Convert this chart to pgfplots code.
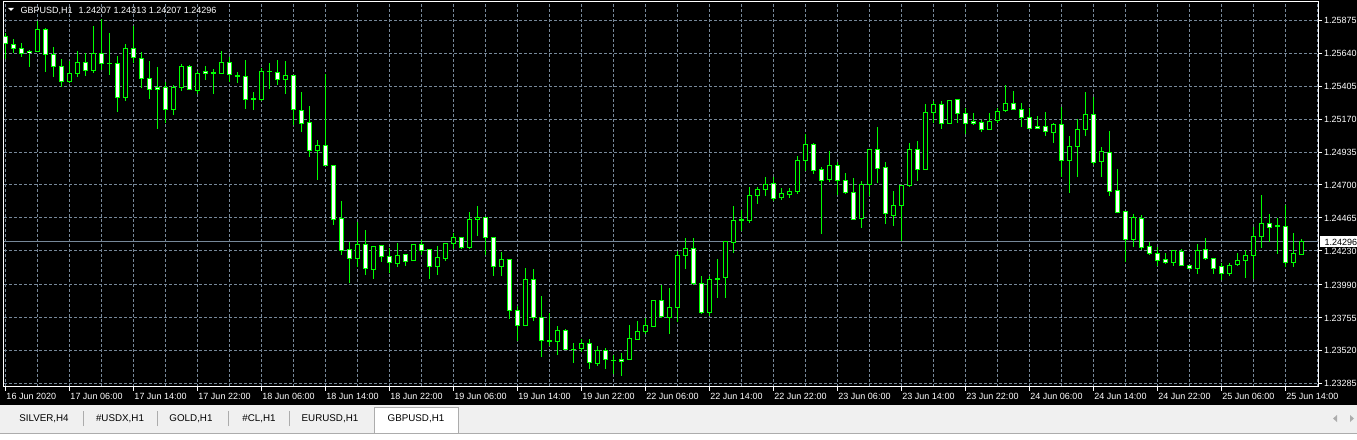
\documentclass[border=0pt]{standalone}
\usepackage{pgfplots}
\pgfplotsset{compat=1.18}
\usepackage{pgfplotstable}
\usetikzlibrary{backgrounds}
\usepackage{fontspec}
\setmainfont{Liberation Sans}
\definecolor{mtlime}{RGB}{0,255,0}
\definecolor{mtgrid}{RGB}{119,136,153}
\definecolor{tabgray}{RGB}{240,240,240}
\definecolor{tabline}{RGB}{172,172,172}
\newcommand{\mtfont}{\fontsize{9}{10.8}\selectfont}

% hourly GBPUSD candles, i = hours after 16 Jun 2020 22:00 (trading hours only)
\pgfplotstableread{
i o h l c
4 1.25652 1.25873 1.25647 1.25811
8 1.25441 1.25586 1.25426 1.25498
9 1.25498 1.25657 1.25474 1.25576
11 1.25519 1.25835 1.25498 1.25635
15 1.25326 1.25707 1.25303 1.25676
21 1.25237 1.25415 1.25201 1.25398
22 1.25398 1.25564 1.25374 1.25548
24 1.25376 1.25517 1.25350 1.25498
27 1.25498 1.25657 1.25498 1.25571
32 1.25312 1.25538 1.25296 1.25512
35 1.25455 1.25586 1.25350 1.25484
39 1.24947 1.25023 1.24738 1.24985
44 1.24173 1.24439 1.24113 1.24273
46 1.24101 1.24268 1.24030 1.24266
49 1.24144 1.24290 1.24113 1.24201
51 1.24159 1.24280 1.24156 1.24273
54 1.24121 1.24266 1.24057 1.24180
55 1.24180 1.24290 1.24156 1.24287
56 1.24287 1.24360 1.24247 1.24323
58 1.24256 1.24510 1.24244 1.24451
59 1.24451 1.24553 1.24334 1.24472
62 1.24116 1.24223 1.24050 1.24166
65 1.23698 1.24109 1.23696 1.24026
69 1.23586 1.23694 1.23487 1.23665
72 1.23537 1.23601 1.23506 1.23572
74 1.23430 1.23553 1.23413 1.23522
78 1.23458 1.23703 1.23456 1.23608
79 1.23601 1.23734 1.23598 1.23658
80 1.23658 1.23755 1.23637 1.23698
81 1.23691 1.23883 1.23689 1.23876
83 1.23755 1.23964 1.23637 1.23826
84 1.23826 1.24230 1.23726 1.24201
85 1.24201 1.24323 1.24101 1.24251
88 1.23791 1.24054 1.23769 1.24026
90 1.24040 1.24301 1.23897 1.24294
91 1.24294 1.24551 1.24216 1.24451
92 1.24448 1.24525 1.24375 1.24451
93 1.24444 1.24686 1.24429 1.24629
94 1.24629 1.24686 1.24562 1.24671
95 1.24671 1.24757 1.24621 1.24707
97 1.24614 1.24679 1.24591 1.24643
98 1.24636 1.24679 1.24605 1.24657
99 1.24657 1.24906 1.24636 1.24875
100 1.24875 1.25064 1.24797 1.24992
103 1.24743 1.24942 1.24721 1.24842
107 1.24458 1.24729 1.24398 1.24707
108 1.24707 1.24959 1.24619 1.24956
111 1.24486 1.24657 1.24405 1.24551
112 1.24551 1.24700 1.24298 1.24693
113 1.24693 1.24999 1.24686 1.24956
115 1.24813 1.25277 1.24811 1.25220
116 1.25220 1.25299 1.25141 1.25277
118 1.25141 1.25308 1.25134 1.25306
123 1.25099 1.25213 1.25096 1.25156
124 1.25163 1.25249 1.25141 1.25227
125 1.25234 1.25412 1.25220 1.25284
131 1.25077 1.25141 1.24999 1.25134
133 1.24878 1.25049 1.24643 1.24978
134 1.24978 1.25170 1.24757 1.25099
135 1.25099 1.25362 1.25049 1.25206
137 1.24864 1.24971 1.24757 1.24935
141 1.24309 1.24494 1.24256 1.24465
146 1.24144 1.24232 1.24121 1.24230
149 1.24108 1.24280 1.24064 1.24237
153 1.24069 1.24144 1.24054 1.24130
154 1.24130 1.24216 1.24121 1.24159
155 1.24159 1.24237 1.24033 1.24201
156 1.24201 1.24401 1.24033 1.24337
157 1.24337 1.24629 1.24251 1.24429
161 1.24151 1.24358 1.24116 1.24209
162 1.24207 1.24313 1.24207 1.24296
}\bull

\pgfplotstableread{
i o h l c
0 1.25759 1.25783 1.25597 1.25707
1 1.25704 1.25742 1.25640 1.25676
2 1.25676 1.25714 1.25611 1.25640
3 1.25654 1.25664 1.25545 1.25645
5 1.25811 1.25820 1.25510 1.25635
6 1.25635 1.25683 1.25474 1.25548
7 1.25548 1.25600 1.25398 1.25443
10 1.25576 1.25640 1.25474 1.25519
12 1.25640 1.25882 1.25522 1.25569
13 1.25571 1.25783 1.25486 1.25569
14 1.25569 1.25623 1.25218 1.25326
16 1.25676 1.25835 1.25569 1.25611
17 1.25604 1.25647 1.25391 1.25462
18 1.25462 1.25586 1.25317 1.25384
19 1.25398 1.25541 1.25099 1.25384
20 1.25398 1.25438 1.25146 1.25237
23 1.25548 1.25557 1.25379 1.25384
25 1.25514 1.25550 1.25450 1.25498
26 1.25503 1.25526 1.25350 1.25500
28 1.25576 1.25616 1.25438 1.25491
29 1.25481 1.25510 1.25431 1.25476
30 1.25476 1.25593 1.25246 1.25312
31 1.25315 1.25362 1.25237 1.25312
33 1.25512 1.25569 1.25388 1.25510
34 1.25505 1.25593 1.25415 1.25455
36 1.25484 1.25486 1.25130 1.25241
37 1.25234 1.25362 1.25082 1.25141
38 1.25149 1.25265 1.24897 1.24949
40 1.24985 1.25493 1.24840 1.24842
41 1.24842 1.24845 1.24417 1.24458
42 1.24465 1.24589 1.24204 1.24237
43 1.24237 1.24294 1.24002 1.24173
45 1.24273 1.24377 1.24057 1.24101
47 1.24266 1.24273 1.24149 1.24187
48 1.24187 1.24251 1.24073 1.24144
50 1.24201 1.24204 1.24121 1.24151
52 1.24273 1.24311 1.24201 1.24237
53 1.24237 1.24244 1.24030 1.24116
57 1.24323 1.24328 1.24244 1.24256
60 1.24472 1.24475 1.24201 1.24323
61 1.24329 1.24332 1.24050 1.24116
63 1.24166 1.24173 1.23748 1.23805
64 1.23805 1.23834 1.23591 1.23698
66 1.24026 1.24101 1.23731 1.23755
67 1.23755 1.23907 1.23470 1.23594
68 1.23589 1.23784 1.23549 1.23586
70 1.23665 1.23672 1.23522 1.23527
71 1.23529 1.23572 1.23430 1.23527
73 1.23572 1.23601 1.23392 1.23437
75 1.23522 1.23537 1.23392 1.23458
76 1.23451 1.23487 1.23349 1.23448
77 1.23458 1.23501 1.23342 1.23444
82 1.23876 1.23990 1.23755 1.23762
86 1.24251 1.24323 1.23990 1.23997
87 1.23997 1.24054 1.23784 1.23791
89 1.24033 1.24173 1.23897 1.24030
96 1.24714 1.24757 1.24586 1.24607
101 1.24992 1.24999 1.24776 1.24806
102 1.24813 1.24827 1.24351 1.24733
104 1.24842 1.24864 1.24629 1.24736
105 1.24736 1.24783 1.24636 1.24650
106 1.24650 1.24750 1.24448 1.24453
109 1.24956 1.25115 1.24714 1.24821
110 1.24827 1.24866 1.24422 1.24494
114 1.24956 1.25014 1.24726 1.24813
117 1.25277 1.25299 1.25099 1.25141
119 1.25306 1.25308 1.25141 1.25213
120 1.25213 1.25249 1.25063 1.25141
121 1.25156 1.25213 1.25127 1.25141
122 1.25149 1.25163 1.25082 1.25099
126 1.25284 1.25369 1.25239 1.25241
127 1.25241 1.25284 1.25113 1.25184
128 1.25184 1.25249 1.25099 1.25106
129 1.25120 1.25191 1.25099 1.25106
130 1.25120 1.25220 1.25046 1.25084
132 1.25134 1.25256 1.24757 1.24878
136 1.25206 1.25326 1.24842 1.24864
138 1.24935 1.25085 1.24621 1.24657
139 1.24664 1.24813 1.24501 1.24508
140 1.24508 1.24510 1.24149 1.24309
142 1.24465 1.24486 1.24237 1.24259
143 1.24259 1.24294 1.24201 1.24209
144 1.24209 1.24259 1.24121 1.24159
145 1.24166 1.24216 1.24137 1.24144
147 1.24230 1.24244 1.24123 1.24130
148 1.24130 1.24132 1.24101 1.24108
150 1.24237 1.24323 1.24166 1.24173
151 1.24173 1.24180 1.24064 1.24108
152 1.24116 1.24144 1.24026 1.24069
158 1.24429 1.24494 1.24294 1.24401
159 1.24408 1.24465 1.24209 1.24403
160 1.24405 1.24557 1.24116 1.24144
}\bear

\pgfplotsset{
  candlepart/.style 2 args={draw=none, mark=none, forget plot,
    error bars/.cd, y dir=both, y explicit, error mark=none,
    error bar style={solid, draw=#1, line width=#2}},
}

\begin{document}
\begin{tikzpicture}[x=1pt,y=1pt]
\begin{axis}[
  at={(0,0)}, anchor=south west,
  scale only axis, width=1314.3pt, height=385.2pt,
  xmin=-0.1625, xmax=164.125, ymin=1.23261, ymax=1.26009,
  axis background/.style={fill=black},
  axis line style={white, line width=1pt},
  xtick={0,8,...,160},
  xticklabels={16 Jun 2020,17 Jun 06:00,17 Jun 14:00,17 Jun 22:00,18 Jun 06:00,18 Jun 14:00,18 Jun 22:00,19 Jun 06:00,19 Jun 14:00,19 Jun 22:00,22 Jun 06:00,22 Jun 14:00,22 Jun 22:00,23 Jun 06:00,23 Jun 14:00,23 Jun 22:00,24 Jun 06:00,24 Jun 14:00,24 Jun 22:00,25 Jun 06:00,25 Jun 14:00},
  minor xtick={4,12,...,164},
  ytick={1.23285,1.23520,1.23755,1.23990,1.24230,1.24465,1.24700,1.24935,1.25170,1.25405,1.25640,1.25875},
  yticklabels={1.23285,1.23520,1.23755,1.23990,1.24230,1.24465,1.24700,1.24935,1.25170,1.25405,1.25640,1.25875},
  xmajorgrids, xminorgrids, ymajorgrids,
  grid style={mtgrid, line width=1pt, dash pattern=on 3pt off 2pt},
  minor grid style={mtgrid, line width=1pt, dash pattern=on 3pt off 2pt},
  tick style={white, line width=1pt},
  major tick length=4pt, minor tick length=0pt,
  tick align=outside,
  xtick pos=bottom, ytick pos=right, yticklabel pos=right,
  tick label style={text=white, font=\mtfont},
  xticklabel style={anchor=base west, inner sep=0pt, xshift=1pt, yshift=-8.6pt},
  yticklabel style={anchor=base west, inner sep=0pt, xshift=1.6pt, yshift=-3.6pt},
]
% current bid line
\addplot[mtgrid, line width=1pt, forget plot] coordinates {(-1,1.24296) (170,1.24296)};
% wicks
\addplot[candlepart={mtlime}{1pt}] table[x=i, y expr={(\thisrow{h}+\thisrow{l})/2}, y error expr={(\thisrow{h}-\thisrow{l})/2}] {\bull};
\addplot[candlepart={mtlime}{1pt}] table[x=i, y expr={(\thisrow{h}+\thisrow{l})/2}, y error expr={(\thisrow{h}-\thisrow{l})/2}] {\bear};
% body outlines
\addplot[candlepart={mtlime}{5pt}] table[x=i, y expr={(\thisrow{o}+\thisrow{c})/2}, y error expr={abs(\thisrow{o}-\thisrow{c})/2+0.0000357}] {\bull};
\addplot[candlepart={mtlime}{5pt}] table[x=i, y expr={(\thisrow{o}+\thisrow{c})/2}, y error expr={abs(\thisrow{o}-\thisrow{c})/2+0.0000357}] {\bear};
% body fills
\addplot[candlepart={black}{3pt}] table[x=i, y expr={(\thisrow{o}+\thisrow{c})/2}, y error expr={max(abs(\thisrow{o}-\thisrow{c})/2-0.0000357,0)}] {\bull};
\addplot[candlepart={white}{3pt}] table[x=i, y expr={(\thisrow{o}+\thisrow{c})/2}, y error expr={max(abs(\thisrow{o}-\thisrow{c})/2-0.0000357,0)}] {\bear};
\coordinate (F) at (rel axis cs:0,0);
\coordinate (pbox) at (axis cs:164.125,1.24296);
\end{axis}

\begin{scope}[shift={(F)}, xshift=-4pt, yshift=-52.3pt]
\pgfresetboundingbox
\useasboundingbox (0,0) rectangle (1357,439);
\begin{scope}[on background layer]
% window background
\fill[black] (0,34) rectangle (1357,439);
% tab strip
\fill[tabgray] (0,0) rectangle (1357,34);
\fill[white] (0,0) rectangle (1357,5.5);
\draw[tabline, line width=1pt] (0,6) -- (1357,6);
\filldraw[fill=white, draw=tabline, line width=1pt] (374.5,6) rectangle (458.5,32);
\foreach \s in {83.5,157.5,228.5,289.5} \draw[tabline, line width=1pt] (\s,13) -- (\s,28);
\end{scope}
\begin{scope}[font=\fontsize{9.8}{11}\selectfont, text=black]
\node at (44,20.5) {SILVER,H4};
\node at (120,20.5) {\#USDX,H1};
\node at (191,20.5) {GOLD,H1};
\node at (259,20.5) {\#CL,H1};
\node at (330,20.5) {EURUSD,H1};
\node at (416,20.5) {GBPUSD,H1};
\end{scope}
\fill[tabline] (1333,20.5) -- (1337,24) -- (1337,17) -- cycle;
\fill[tabline] (1354,20.5) -- (1350,24) -- (1350,17) -- cycle;
% header
\fill[white] (8,431) -- (14,431) -- (11,428) -- cycle;
\node[anchor=base west, inner sep=0pt, text=white, font=\mtfont] at (20.5,425.8) {GBPUSD,H1\hspace{6pt}1.24207 1.24313 1.24207 1.24296};
% current price label
\fill[white] ([yshift=-5.2pt]pbox -| 1319.7,0) rectangle ([yshift=5.2pt]pbox -| 1357,0);
\node[anchor=base west, inner sep=0pt, text=black, font=\mtfont] at ([yshift=-3.6pt]pbox -| 1324.3,0) {1.24296};
\end{scope}
\end{tikzpicture}
\end{document}
